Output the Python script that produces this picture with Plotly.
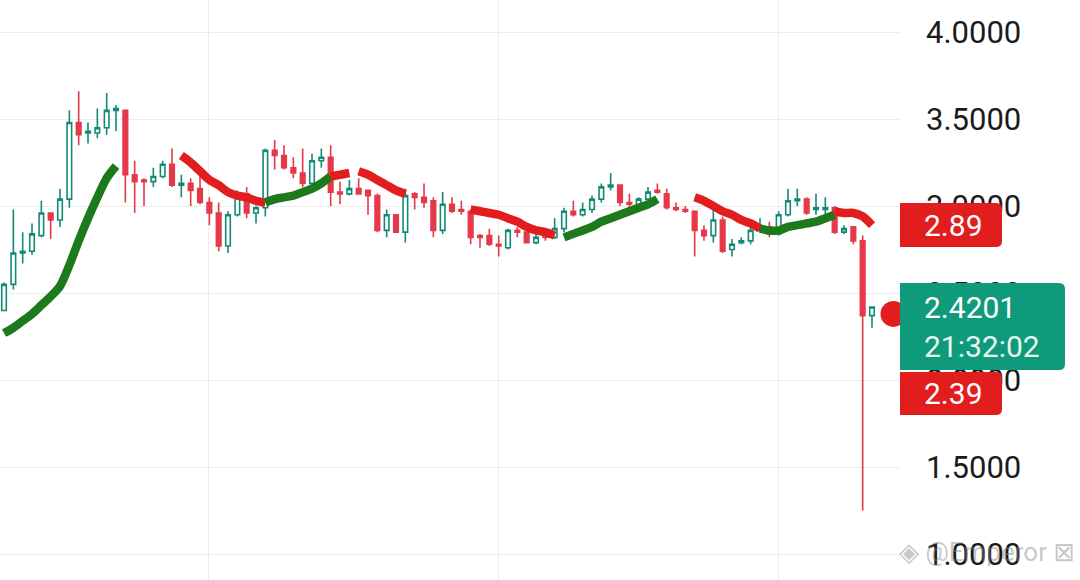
import plotly.graph_objects as go

# candle data (one candle per slot, left to right)
opens = [2.40, 2.55, 2.73, 2.74, 2.83, 2.96, 2.92, 3.04, 3.48, 3.42, 3.42, 3.45, 3.55, 3.55, 3.18, 3.15,
         3.14, 3.17, 3.24, 3.12, 3.13, 3.10, 3.02, 2.96, 2.77, 2.95, 3.07, 2.96, 2.99, 3.32, 3.29, 3.22,
         3.19, 3.13, 3.26, 3.28, 3.08, 3.07, 3.10, 3.09, 3.06, 2.86, 2.95, 2.85, 3.07, 3.05, 3.03, 2.86,
         3.01, 2.98, 2.97, 2.83, 2.83, 2.78, 2.76, 2.86, 2.85, 2.79, 2.84, 2.82, 2.87, 2.97, 2.95, 2.98,
         3.04, 3.11, 3.12, 3.02, 3.00, 3.04, 3.09, 3.07, 2.99, 2.98, 2.97, 2.86, 2.83, 2.92, 2.75, 2.79,
         2.80, 2.86, 2.88, 2.84, 2.95, 3.03, 3.04, 2.98, 2.98, 2.99, 2.85, 2.88, 2.80, 2.37]
highs = [2.56, 2.98, 2.85, 2.90, 3.03, 2.96, 3.10, 3.55, 3.66, 3.48, 3.56, 3.65, 3.58, 3.55, 3.26, 3.16,
         3.22, 3.26, 3.33, 3.18, 3.16, 3.18, 3.05, 3.02, 2.97, 3.09, 3.11, 3.00, 3.33, 3.38, 3.35, 3.28,
         3.33, 3.30, 3.33, 3.35, 3.14, 3.15, 3.16, 3.09, 3.07, 2.98, 2.95, 3.10, 3.08, 3.13, 3.05, 3.08,
         3.05, 3.03, 2.98, 2.84, 2.87, 2.83, 2.87, 2.88, 2.85, 2.88, 2.85, 2.93, 2.99, 3.03, 3.02, 3.06,
         3.13, 3.19, 3.12, 3.07, 3.05, 3.11, 3.13, 3.10, 3.02, 3.00, 2.97, 2.89, 2.98, 2.94, 2.81, 2.82,
         2.88, 2.93, 2.91, 2.97, 3.10, 3.10, 3.05, 3.07, 3.05, 3.00, 2.89, 2.88, 2.83, 2.42]
lows = [2.40, 2.52, 2.67, 2.72, 2.82, 2.81, 2.88, 2.99, 3.35, 3.36, 3.39, 3.41, 3.43, 3.02, 2.96, 3.00,
        3.11, 3.16, 3.11, 3.05, 3.00, 3.01, 2.89, 2.74, 2.73, 2.94, 2.93, 2.90, 2.94, 3.21, 3.21, 3.16,
        3.11, 3.12, 3.22, 3.00, 3.01, 3.06, 3.07, 2.95, 2.85, 2.82, 2.85, 2.79, 2.98, 2.99, 2.82, 2.84,
        2.96, 2.95, 2.78, 2.76, 2.77, 2.71, 2.75, 2.82, 2.79, 2.78, 2.80, 2.81, 2.85, 2.94, 2.94, 2.96,
        3.02, 3.09, 3.00, 2.96, 2.99, 3.03, 3.07, 2.98, 2.97, 2.96, 2.71, 2.80, 2.79, 2.73, 2.71, 2.78,
        2.78, 2.85, 2.82, 2.83, 2.94, 3.00, 2.95, 2.95, 2.95, 2.84, 2.84, 2.78, 1.25, 2.30]
closes = [2.55, 2.73, 2.74, 2.84, 2.96, 2.92, 3.04, 3.48, 3.41, 3.43, 3.45, 3.55, 3.56, 3.18, 3.14, 3.14,
          3.17, 3.24, 3.12, 3.13, 3.09, 3.02, 2.96, 2.77, 2.95, 3.07, 2.96, 2.99, 3.32, 3.29, 3.22, 3.19,
          3.13, 3.26, 3.28, 3.08, 3.07, 3.10, 3.07, 3.06, 2.86, 2.95, 2.85, 3.06, 3.05, 3.02, 2.86, 3.01,
          2.97, 2.97, 2.82, 2.82, 2.78, 2.77, 2.86, 2.85, 2.79, 2.82, 2.82, 2.87, 2.97, 2.95, 2.98, 3.04,
          3.11, 3.12, 3.02, 3.01, 3.04, 3.08, 3.08, 2.99, 2.98, 2.97, 2.86, 2.83, 2.92, 2.74, 2.78, 2.80,
          2.86, 2.87, 2.84, 2.95, 3.03, 3.04, 2.96, 2.99, 2.99, 2.85, 2.87, 2.80, 2.37, 2.42]

# trend line, split in pieces: first candle slot, direction, values
ma_start = [0, 19, 28, 35, 38, 50, 60, 74, 81, 89]
ma_trend = ["up", "down", "up", "down", "down", "down", "up", "down", "up", "down"]
ma_values = [
    [2.27, 2.30, 2.34, 2.38, 2.43, 2.48, 2.54, 2.66, 2.80, 2.93, 3.05, 3.16, 3.23],
    [3.29, 3.25, 3.20, 3.15, 3.12, 3.08, 3.06, 3.05, 3.03, 3.02],
    [3.02, 3.04, 3.05, 3.06, 3.08, 3.10, 3.13, 3.17],
    [3.17, 3.18, 3.19],
    [3.20, 3.18, 3.15, 3.12, 3.09, 3.07],
    [2.98, 2.97, 2.96, 2.95, 2.93, 2.91, 2.88, 2.86, 2.85, 2.83],
    [2.82, 2.84, 2.86, 2.88, 2.91, 2.93, 2.95, 2.97, 2.99, 3.01, 3.04],
    [3.05, 3.03, 3.00, 2.97, 2.95, 2.92, 2.90, 2.87],
    [2.87, 2.86, 2.86, 2.88, 2.89, 2.90, 2.91, 2.93, 2.95],
    [2.97, 2.96, 2.96, 2.94, 2.89],
]

last_price = "2.4201"
countdown = "21:32:02"
upper_label = "2.89"
lower_label = "2.39"

UP = "#138a75"
DOWN = "#e5394a"
LINE_COLORS = {"up": "#1c7a1c", "down": "#e21d1d"}
W, H, PLOT_W = 1080, 580, 900


def px(x):
    return x / PLOT_W


def py(y):
    return 1 - y / H


def tag_path(x0, y0, x1, y1, r=6):
    # box flush on the left, rounded on the right (pixel coords -> paper)
    return (f"M {px(x0)} {py(y0)} L {px(x1 - r)} {py(y0)} "
            f"Q {px(x1)} {py(y0)} {px(x1)} {py(y0 + r)} "
            f"L {px(x1)} {py(y1 - r)} Q {px(x1)} {py(y1)} {px(x1 - r)} {py(y1)} "
            f"L {px(x0)} {py(y1)} Z")


fig = go.Figure()

fig.add_trace(go.Candlestick(
    x=list(range(len(opens))), open=opens, high=highs, low=lows, close=closes,
    increasing=dict(line=dict(color=UP, width=1.6), fillcolor="white"),
    decreasing=dict(line=dict(color=DOWN, width=1.6), fillcolor=DOWN),
    whiskerwidth=0, showlegend=False, hoverinfo="skip",
))

for start, trend, vals in zip(ma_start, ma_trend, ma_values):
    fig.add_trace(go.Scatter(
        x=list(range(start, start + len(vals))), y=vals, mode="lines",
        line=dict(color=LINE_COLORS[trend], width=8.5, shape="spline", smoothing=0.8),
        showlegend=False, hoverinfo="skip",
    ))

# current price dot at the right edge
fig.add_trace(go.Scatter(
    x=[95.3], y=[2.38], mode="markers", cliponaxis=False,
    marker=dict(color="#e21d1d", size=26), showlegend=False, hoverinfo="skip",
))

fig.add_shape(type="path", xref="paper", yref="paper", path=tag_path(900, 203, 1002, 247),
              fillcolor="#e21d1d", line=dict(width=0), layer="above")
fig.add_shape(type="path", xref="paper", yref="paper", path=tag_path(900, 283, 1065, 370),
              fillcolor="#0f9a7b", line=dict(width=0), layer="above")
fig.add_shape(type="path", xref="paper", yref="paper", path=tag_path(900, 372, 1002, 415),
              fillcolor="#e21d1d", line=dict(width=0), layer="above")

label_font = dict(family="Roboto, Arial", size=30, color="white")
for text, ycen, color in [(upper_label, 225, "white"), (last_price, 307, "white"),
                          (countdown, 346, "#e6f6ef"), (lower_label, 393, "white")]:
    fig.add_annotation(
        xref="paper", yref="paper", x=px(922), y=py(ycen), xanchor="left", yanchor="middle",
        text=text, showarrow=False, font=dict(label_font, color=color),
    )

# watermark
fig.add_annotation(
    xref="paper", yref="paper", x=px(1077), y=py(552), xanchor="right", yanchor="middle",
    text="◈ @Emperor ⊠", showarrow=False,
    font=dict(family="Roboto, DejaVu Sans", size=26, color="rgba(130,130,130,0.45)"),
)

fig.update_layout(
    width=W, height=H,
    margin=dict(l=0, r=W - PLOT_W, t=0, b=0, autoexpand=False),
    paper_bgcolor="white", plot_bgcolor="white",
    xaxis=dict(
        range=[-0.43, 96.0], rangeslider=dict(visible=False),
        tickvals=[21.86, 52.93, 82.93], showticklabels=False,
        showgrid=True, gridcolor="#ececec", gridwidth=1, zeroline=False,
        showline=False, ticks="",
    ),
    yaxis=dict(
        side="right", range=[0.851, 4.184], tick0=1.0, dtick=0.5, tickformat=".4f",
        showgrid=True, gridcolor="#ececec", gridwidth=1, zeroline=False,
        ticks="", ticklabelstandoff=25,
        tickfont=dict(family="Roboto, Arial", size=31, color="#1b1b1b"),
    ),
)

fig.write_html("out.html", config={"displayModeBar": False},
               post_script="document.body.style.margin = '0px';")
